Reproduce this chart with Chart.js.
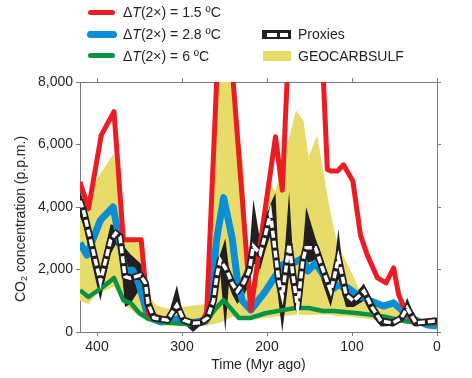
<!DOCTYPE html>
<html><head><meta charset="utf-8">
<style>
html,body{margin:0;padding:0;background:#fff;}
#wrap{position:relative;width:472px;height:378px;font-family:"Liberation Sans",Arial,sans-serif;color:#231f20;overflow:hidden;}
canvas{position:absolute;left:0;top:0;}
.lt{position:absolute;font-size:14px;line-height:16px;white-space:nowrap;}
.sw{position:absolute;}
#ytitle{position:absolute;font-size:14px;line-height:16px;white-space:nowrap;left:20px;top:219px;transform:translate(-50%,-50%) rotate(-90deg);}
#ytitle sub{font-size:9px;vertical-align:-2px;line-height:0;}
</style>
<script src="https://cdn.jsdelivr.net/npm/chart.js@4.4.0/dist/chart.umd.min.js"></script>
</head><body>
<div id="wrap">
<canvas id="c" width="472" height="378"></canvas>
<div class="sw" style="left:88px;top:10px;width:27px;height:5px;border-radius:3px;background:#ec1c24"></div>
<div class="sw" style="left:87px;top:31px;width:30px;height:7px;border-radius:4px;background:#0a8fd6"></div>
<div class="sw" style="left:88px;top:53px;width:27px;height:5px;border-radius:3px;background:#079247"></div>
<div class="lt" style="left:123px;top:4px">Δ<i>T</i>(2×) = 1.5 ºC</div>
<div class="lt" style="left:123px;top:26px">Δ<i>T</i>(2×) = 2.8 ºC</div>
<div class="lt" style="left:123px;top:48px">Δ<i>T</i>(2×) = 6 ºC</div>
<div class="sw" style="left:262px;top:30px;width:29px;height:9px;background:#231f20"></div>
<div class="sw" style="left:267px;top:32.5px;width:10px;height:4px;background:#fff"></div>
<div class="sw" style="left:280px;top:32.5px;width:8px;height:4px;background:#fff"></div>
<div class="sw" style="left:263px;top:51px;width:28px;height:10px;background:#e7dc69"></div>
<div class="lt" style="left:298px;top:26px">Proxies</div>
<div class="lt" style="left:298px;top:48px">GEOCARBSULF</div>
<div id="ytitle">CO<sub>2</sub> concentration (p.p.m.)</div>
</div>
<script>
// ---- data (Myr ago, p.p.m.) ----
const xTicks = [0, 100, 200, 300, 400];
const yTicks = [0, 2000, 4000, 6000, 8000];
const yTickLabels = ['0', '2,000', '4,000', '6,000', '8,000'];

const redAge = [420,410,395,380,369,348,340,333,317,306,298,287,278,271,258,242,219,190,182,174,136,129,125,117,110,99,90,82,70,60,51,45,37,27,15,0];
const redVal = [4800,3950,6300,7050,2950,2950,600,450,380,860,380,280,300,600,8800,8800,700,6250,4540,9500,9500,5200,5150,5150,5350,4830,3100,2460,1730,1570,2050,1180,670,290,300,300];

const blueAge = [420,412,396,381,373,367,358,351,340,325,305,290,272,266,259,251,241,235,229,219,202,190,182,169,158,152,143,131,121,117,105,93,78,63,51,40,31,11,0];
const blueVal = [2850,2460,3580,4000,2850,1980,1980,1570,480,320,420,280,380,1190,3000,4300,3000,1700,1000,700,1300,1800,2150,2200,2370,1950,2200,1730,1410,1500,1410,1180,990,830,930,670,450,220,190];

const greenAge = [420,410,393,380,369,360,350,340,320,290,272,262,251,233,219,202,182,166,151,134,121,93,63,39,22,0];
const greenVal = [1340,1120,1440,1730,1020,920,600,440,300,250,300,700,1020,450,450,600,700,770,770,670,670,600,500,350,290,250];

const geoAge  = [420,410,401,380,369,350,342,330,318,300,272,256,240,227,221,215,200,190,166,157,151,141,131,125,117,105,90,74,60,51,39,29,0];
const geoHigh = [4400,4000,4860,5720,2940,2850,1250,850,750,800,900,8800,8100,5100,900,2000,4900,4500,7100,6750,5600,6300,4700,3800,2800,2150,1300,870,870,1090,670,300,300];
const geoLow  = [1000,900,1200,1450,900,500,350,250,200,200,200,300,500,500,400,400,450,500,550,550,550,550,550,550,500,500,450,400,350,350,300,250,250];

const proxyAge  = [420,416,396,384,378,373,367,361,349,343,340,333,317,306,298,287,278,270,263,259,255,249,245,241,235,227,221,216,208,202,196,190,186,182,174,169,164,158,154,143,135,125,121,116,111,107,98,86,76,66,52,42,35,25,3,0];
const proxyMid  = [4200,3900,1610,2940,3160,3050,1770,1720,1820,1560,920,450,380,860,380,280,300,450,1000,1800,2300,2050,1820,1550,1300,1600,1950,2750,2500,3100,3800,2500,1600,1150,2800,1730,800,2260,2700,2700,2050,1310,1730,2370,1730,1190,990,1310,770,350,290,450,770,290,350,350];
const proxyHigh = [4500,4200,2000,3450,3400,3200,2700,2500,2200,1900,1200,600,450,1500,480,350,400,550,1300,2200,2500,3000,2100,1700,1500,1900,2500,4250,2900,3500,4100,4450,2000,1500,4500,2200,1100,2600,4000,3000,2400,1600,2100,3300,2100,1400,1150,1550,1000,450,380,550,1100,380,400,400];
const proxyLow  = [3700,3400,1000,2500,2800,2600,800,900,1400,1200,700,350,300,650,280,0,220,350,700,1400,1900,0,1500,1200,900,1200,1500,2200,2000,2600,3100,1900,900,0,1800,1100,500,1800,2200,2300,1600,800,1300,1700,1200,800,800,1000,500,180,200,330,500,200,300,300];

const RED = '#ec1c24', BLUE = '#0a8fd6', GREEN = '#079247', YELLOW = '#e7dc69', BLACK = '#231f20';
const AXIS = '#7a7a7a', TXT = '#231f20';

const pts = (xs, ys) => xs.map((x, i) => ({x, y: ys[i]}));
const line = (label, xs, ys, color, w, order, extra) => Object.assign({
  label, data: pts(xs, ys), borderColor: color, backgroundColor: color,
  borderWidth: w, pointRadius: 0, tension: 0, fill: false, order,
  borderJoinStyle: 'round', borderCapStyle: 'butt'
}, extra || {});

// lower "order" is drawn on top
const datasets = [
  line('Proxies (dash)', proxyAge, proxyMid, '#ffffff', 3.5, 0, {borderDash: [7, 3], borderJoinStyle: 'miter'}),
  line('Proxies', proxyAge, proxyMid, BLACK, 7, 1),
  line('ΔT(2×) = 1.5 ºC', redAge, redVal, RED, 5, 2),
  line('ΔT(2×) = 6 ºC', greenAge, greenVal, GREEN, 4.5, 3),
  line('ΔT(2×) = 2.8 ºC', blueAge, blueVal, BLUE, 7, 4),
  line('Proxies high', proxyAge, proxyHigh, BLACK, 0, 5, {fill: '+1', backgroundColor: BLACK}),
  line('Proxies low', proxyAge, proxyLow, BLACK, 0, 6),
  line('GEOCARBSULF high', geoAge, geoHigh, YELLOW, 0, 7, {fill: '+1', backgroundColor: YELLOW}),
  line('GEOCARBSULF low', geoAge, geoLow, YELLOW, 0, 8)
];

const font = {family: '"Liberation Sans", Arial, sans-serif', size: 14};
const setTicks = vals => s => { s.ticks = vals.map(v => ({value: v})); };
const gridOpts = {display: true, drawOnChartArea: false, drawTicks: true, tickLength: 4, color: AXIS, lineWidth: 1};
const borderOpts = {display: true, color: AXIS, width: 1};

new Chart(document.getElementById('c'), {
  type: 'line',
  data: {datasets},
  options: {
    responsive: false, animation: false, devicePixelRatio: 1,
    layout: {padding: 0},
    plugins: {legend: {display: false}, tooltip: {enabled: false}},
    scales: {
      x: {
        type: 'linear', position: 'bottom', min: 0, max: 420, reverse: true,
        afterBuildTicks: setTicks(xTicks),
        afterFit: s => { s.height = 46; },
        grid: gridOpts, border: borderOpts,
        ticks: {color: TXT, font, padding: 3, maxRotation: 0, callback: v => String(v)},
        title: {display: true, text: 'Time (Myr ago)', color: TXT, font, padding: {top: 0, bottom: 4}}
      },
      x2: {
        type: 'linear', position: 'top', min: 0, max: 420, reverse: true,
        afterBuildTicks: setTicks(xTicks),
        afterFit: s => { s.height = 82; },
        grid: gridOpts, border: borderOpts,
        ticks: {display: false}
      },
      y: {
        type: 'linear', position: 'left', min: 0, max: 8000,
        afterBuildTicks: setTicks(yTicks),
        afterFit: s => { s.width = 80; },
        grid: gridOpts, border: borderOpts,
        ticks: {color: TXT, font, padding: 3, callback: v => yTickLabels[yTicks.indexOf(v)]}
      },
      y2: {
        type: 'linear', position: 'right', min: 0, max: 8000,
        afterBuildTicks: setTicks(yTicks),
        afterFit: s => { s.width = 35; },
        grid: gridOpts, border: borderOpts,
        ticks: {display: false}
      }
    }
  }
});
</script>
</body></html>
